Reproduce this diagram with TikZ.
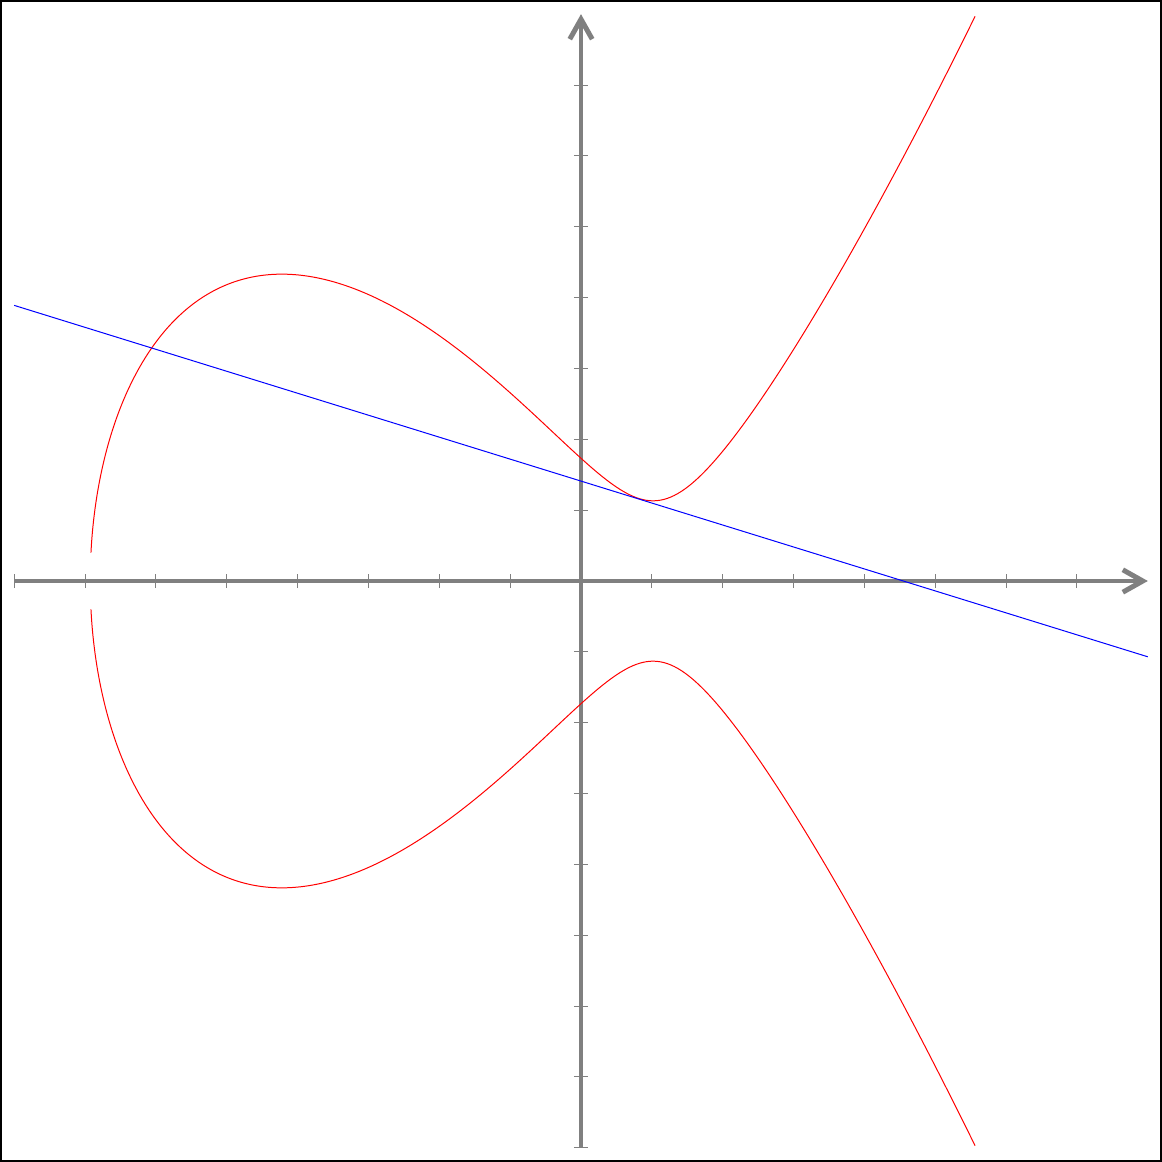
\documentclass[tikz,border=0pt]{standalone}
\usetikzlibrary{arrows.meta}
\tikzset{
  declare function={ff(\x)=0.2429*\x*\x*\x+1.168*\x*\x-3.13*\x+3.0; xx(\t)=-6.926+\t*\t;},
  axisline/.style={draw=gray, line width=2pt, -{Straight Barb[length=8pt,width=9pt]}},
  tickline/.style={draw=gray, line width=0.4pt},
  curveline/.style={draw=red, line width=0.4pt},
  secant/.style={draw=blue, line width=0.4pt},
  frameline/.style={draw=black, line width=1.6pt}
}
\begin{document}
\begin{tikzpicture}
\useasboundingbox (-8.2,-8.2) rectangle (8.2,8.2);
\fill[white] (-8.2,-8.2) rectangle (8.2,8.2);
% ticks
\foreach \i in {-8,...,7} {
  \draw[tickline] (\i,-0.1) -- (\i,0.1);
  \draw[tickline] (-0.1,\i) -- (0.1,\i);
}
% axes
\coordinate (xs) at (-8,0);
\coordinate (xe) at (8,0);
\coordinate (ys) at (0,-8);
\coordinate (ye) at (0,8);
\draw[axisline] (xs) -- (xe);
\draw[axisline] (ys) -- (ye);
% curve
\draw[curveline] plot[domain=0.1:3.5357, samples=400, variable=\t, smooth] ({xx(\t)},{sqrt(ff(xx(\t)))});
\draw[curveline] plot[domain=0.1:3.5357, samples=400, variable=\t, smooth] ({xx(\t)},{-sqrt(ff(xx(\t)))});
% line
\coordinate (ls) at (-8,{1.41+0.31*8});
\coordinate (le) at (8,{1.41-0.31*8});
\draw[secant] (ls) -- (le);
% frame
\draw[frameline] (-8.2,-8.2) rectangle (8.2,8.2);
\end{tikzpicture}
\end{document}
